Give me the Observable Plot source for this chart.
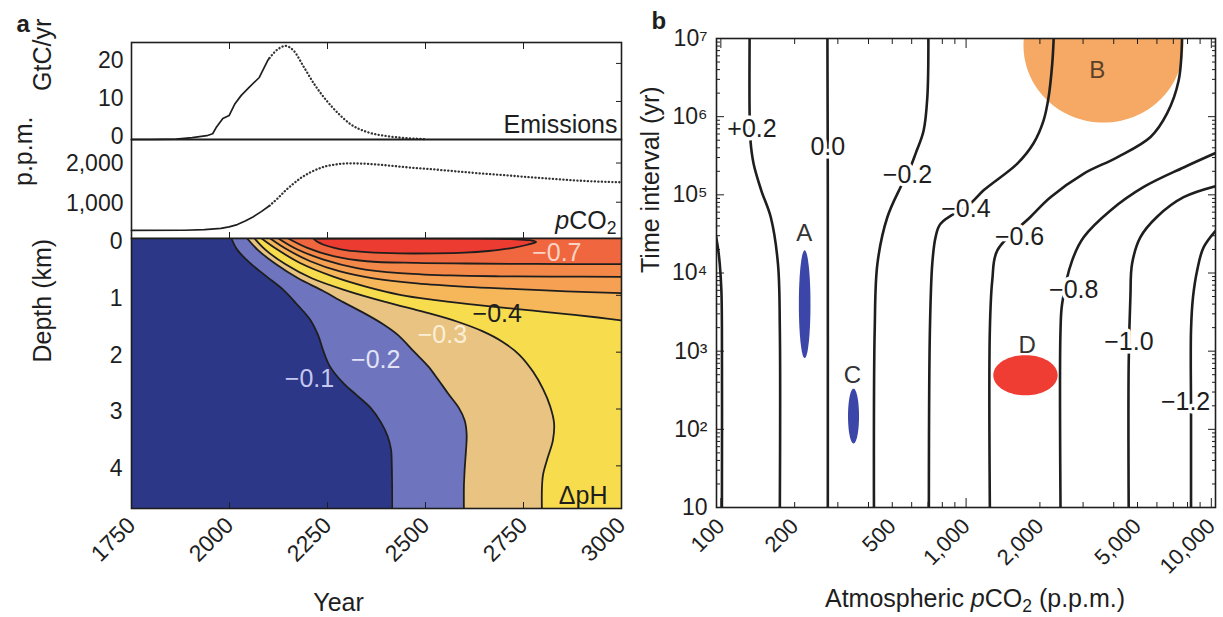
<!DOCTYPE html>
<html>
<head>
<meta charset="utf-8">
<script src="https://cdn.jsdelivr.net/npm/d3@7"></script>
<script src="https://cdn.jsdelivr.net/npm/@observablehq/plot@0.6"></script>
<style>
  html, body { margin: 0; padding: 0; background: #fff; }
  #wrap { position: relative; width: 1223px; height: 617px; background: #fff; overflow: hidden; }
  #wrap svg { position: absolute; left: 0; top: 0; }
</style>
</head>
<body>
<div id="wrap"></div>
<script>
// ---------------- Panel a data ----------------
const yearTicks = [1750, 2000, 2250, 2500, 2750, 3000];
const emisTicks = [0, 10, 20];
const co2Ticks = [1000, 2000];
const depthTicks = [0, 1, 2, 3, 4];

const emisYears  = [1750, 1800, 1864, 1905, 1942, 1957, 1967, 1983, 1999, 2014, 2030, 2050, 2076, 2097, 2102, 2123, 2143, 2164, 2190, 2216, 2247, 2278, 2309, 2350, 2402, 2454, 2496];
const emisValues = [0, 0, 0.1, 0.5, 1.0, 1.5, 3.3, 5.5, 6.3, 9.4, 11.6, 13.7, 16.3, 20.7, 21.4, 23.7, 24.6, 23.3, 19, 14.6, 10.3, 6.8, 4, 2, 0.9, 0.35, 0.1];

const co2Years  = [1750, 1885, 1936, 1978, 1999, 2020, 2040, 2061, 2081, 2102, 2123, 2143, 2164, 2185, 2206, 2226, 2247, 2268, 2290, 2309, 2350, 2402, 2454, 2506, 2558, 2610, 2661, 2713, 2765, 2817, 2868, 2920, 2995];
const co2Values = [280, 285, 300, 335, 370, 430, 520, 630, 760, 910, 1100, 1300, 1480, 1640, 1760, 1850, 1920, 1960, 1985, 1990, 1980, 1940, 1890, 1850, 1805, 1760, 1720, 1680, 1640, 1600, 1565, 1535, 1510];
const solidEnd = 2102; // solid part ends here, later projection dotted

// depth contours of ΔpH: [year, depth km]
const cont01 = [[2005,0],[2020,0.2],[2052,0.43],[2095,0.67],[2140,0.92],[2175,1.18],[2205,1.42],[2226,1.7],[2238,1.95],[2256,2.25],[2291,2.55],[2325,2.76],[2360,2.98],[2386,3.23],[2403,3.47],[2412,3.71],[2414,4.0],[2415,4.8]];
const cont02 = [[2045,0],[2072,0.2],[2118,0.45],[2175,0.7],[2238,0.92],[2290,1.12],[2340,1.3],[2390,1.5],[2430,1.7],[2472,2.0],[2507,2.25],[2533,2.49],[2559,2.74],[2585,2.98],[2600,3.2],[2605,3.45],[2603,3.75],[2600,4.05],[2598,4.35],[2598,4.8]];
const cont03 = [[2064,0],[2092,0.2],[2142,0.45],[2210,0.7],[2300,0.92],[2400,1.12],[2500,1.3],[2580,1.46],[2645,1.63],[2697,1.82],[2740,2.05],[2775,2.35],[2800,2.65],[2818,2.95],[2828,3.25],[2825,3.55],[2812,3.85],[2800,4.15],[2797,4.4],[2797,4.8]];
const cont04 = [[2082,0],[2121,0.19],[2180,0.43],[2265,0.67],[2350,0.85],[2435,0.99],[2520,1.08],[2605,1.15],[2690,1.21],[2775,1.27],[2860,1.33],[2940,1.39],[3000,1.44]];
const cont05 = [[2104,0],[2146,0.19],[2206,0.4],[2282,0.58],[2367,0.7],[2478,0.79],[2605,0.85],[2733,0.89],[2860,0.93],[3000,0.96]];
const cont06 = [[2125,0],[2172,0.19],[2240,0.37],[2325,0.52],[2435,0.61],[2563,0.65],[2690,0.665],[2818,0.67],[3000,0.675]];
const cont07 = [[2150,0],[2197,0.16],[2265,0.31],[2350,0.4],[2478,0.43],[2605,0.44],[2775,0.448],[3000,0.452]];
const cont08 = [[2214,0],[2222,0.05],[2240,0.11],[2265,0.16],[2300,0.21],[2350,0.24],[2435,0.262],[2520,0.262],[2600,0.25],[2660,0.22],[2720,0.17],[2760,0.11],[2782,0.06],[2765,0.03],[2720,0.012],[2600,0.002],[2214,0]];
const depthLevels = ["−0.1", "−0.2", "−0.3", "−0.4", "−0.5", "−0.6", "−0.7", "−0.8"];

const depthLabelText  = ["−0.1", "−0.2", "−0.3", "−0.4", "−0.7"];
const depthLabelYear  = [2204, 2373, 2543, 2683, 2835];
const depthLabelDepth = [2.47, 2.14, 1.70, 1.33, 0.26];

// ---------------- Panel b data ----------------
const xTickLabels = [100, 200, 500, 1000, 2000, 5000, 10000];
const decades = [10, 100, 1000, 10000, 100000, 1000000, 10000000];

// contour lines of ΔpH: [pCO2 ppm, time interval yr]
const lineP04 = [[101,10],[101,2000],[100.5,6000],[99,13000],[97.5,20000],[95.5,30000]];
const lineP02 = [[174,10],[174,1900],[171,13000],[160,51000],[146,115000],[136,250000],[132,500000],[131,1.1e6],[131,1e7]];
const line000 = [[273,10],[273,1e5],[272,1e7]];
const lineN02 = [[421,10],[424,1860],[435,13200],[477,51300],[541,126000],[585,204000],[623,339000],[671,660000],[695,1.78e6],[702,1e7]];
const lineN04 = [[705,10],[712,1860],[728,13200],[751,28800],[787,42700],[1043,77600],[1182,115000],[1618,251000],[1884,457000],[2069,891000],[2170,1.78e6],[2246,4.8e6],[2279,1.1e7]];
const lineN06 = [[1250,10],[1250,1860],[1279,8130],[1341,19500],[1833,52500],[2209,93300],[3010,186000],[4131,302000],[5652,550000],[6600,1.1e6],[7358,2.9e6],[7600,1.1e7]];
const lineN08 = [[2427,10],[2427,1860],[2465,4070],[2708,14500],[3021,28800],[3880,63100],[5301,126000],[7709,224000],[11000,370000]];
const lineN10 = [[4603,10],[4603,692],[4677,4900],[4753,13200],[5140,28800],[6011,52500],[7709,93300],[11000,135000]];
const lineN12 = [[8265,10],[8265,158],[8265,1860],[8420,4900],[8750,10700],[9311,21400],[11000,42000]];

const bLabelText = ["+0.2", "0.0", "−0.2", "−0.4", "−0.6", "−0.8", "−1.0", "−1.2"];
const bLabelP    = [134, 273, 577, 998, 1652, 2748, 4613, 7852];
const bLabelT    = [7.0e5, 4.07e5, 1.78e5, 6.6e4, 2.9e4, 6000, 1300, 224];

// sample regions: extents in pCO2 (ppm) and time interval (yr)
const regionName = ["B", "A", "C", "D"];
const regionPMin = [1714, 208, 330, 1291];
const regionPMax = [7690, 232, 366, 2362];
const regionTMin = [8.4e5, 815, 66, 272];
const regionTMax = [7.9e7, 19500, 331, 890];
const regionLabelP = [3426, 219, 344, 1774];
const regionLabelT = [3.9e6, 32000, 489, 1183];

// ---------------- styles ----------------
const W = 1223, H = 617;
const FONT = '"Liberation Sans", Arial, Helvetica, sans-serif';
const INK = "#1e1e1e";
const TICK_FS = 23, TITLE_FS = 25, LABEL_FS = 25;
const bandColors = ["#6e75be", "#e9c381", "#f7dc4d", "#f6b75b", "#f5a052", "#f38848", "#f0663e", "#ec3b31"];
const NAVY = "#2c3788";
const regionColor = {A: "#3b46a8", B: "#f5a964", C: "#3b46a8", D: "#ef3d34"};
const depthLabelColor = ["#c4c7ee", "#e2e3f7", "#fbefd6", "#1e1e1e", "#fbd3c2"];

const wrap = document.getElementById("wrap");
const NS = "http://www.w3.org/2000/svg";
function richText(svg) {
  svg.querySelectorAll("text").forEach(t => {
    const s = t.textContent;
    const i = s.indexOf("pCO2");
    if (i < 0 || t.children.length) return;
    t.textContent = "";
    const mk = (txt, attrs) => { const e = document.createElementNS(NS, "tspan"); for (const k in attrs) e.setAttribute(k, attrs[k]); e.textContent = txt; t.appendChild(e); };
    if (i > 0) mk(s.slice(0, i), {});
    mk("p", {"font-style": "italic"});
    mk("CO", {});
    mk("2", {"font-size": "70%", dy: "5"});
    const rest = s.slice(i + 4);
    if (rest) mk(rest, {dy: "-5"});
  });
}
function addPlot(opts) {
  const svg = Plot.plot({
    width: W, height: H,
    style: {background: "transparent", fontFamily: FONT, fontSize: "22px", color: INK, overflow: "visible"},
    ...opts
  });
  richText(svg);
  wrap.appendChild(svg);
}
const blank = () => "";
const intFmt = d => String(d);
const xA = {domain: [yearTicks[0], yearTicks[yearTicks.length - 1]], label: null};
const mA = {marginLeft: 131, marginRight: W - 621};
const rows = (xs, ys) => xs.map((x, i) => ({x, y: ys[i]}));

// ---------------- Panel a: emissions ----------------
const emisRows = rows(emisYears, emisValues);
addPlot({
  ...mA, marginTop: 42, marginBottom: H - 139,
  x: xA, y: {domain: [0, 25.5], label: null},
  marks: [
    Plot.line(emisRows.filter(d => d.x <= solidEnd), {x: "x", y: "y", stroke: INK, strokeWidth: 1.7}),
    Plot.line(emisRows.filter(d => d.x >= solidEnd), {x: "x", y: "y", stroke: "#333", strokeWidth: 2.3, strokeDasharray: "0.2 3.3", strokeLinecap: "round", curve: "monotone-x"}),
    Plot.frame({stroke: INK, strokeWidth: 1.6}),
    Plot.axisX(yearTicks.slice(1, -1), {anchor: "top", tickSize: -6, tickFormat: blank}),
    Plot.axisY(emisTicks, {anchor: "left", tickSize: 0, tickPadding: 8, dy: -3, fontSize: TICK_FS, tickFormat: intFmt}),
    Plot.axisY(emisTicks.slice(1), {anchor: "right", tickSize: -6, tickFormat: blank}),
    Plot.text(["Emissions"], {frameAnchor: "bottom-right", textAnchor: "end", lineAnchor: "bottom", dx: -4, dy: -7, fontSize: LABEL_FS}),
    Plot.text(["GtC/yr"], {frameAnchor: "left", rotate: -90, dx: -89, fontSize: TITLE_FS}),
    Plot.text(["a"], {frameAnchor: "top-left", textAnchor: "start", lineAnchor: "bottom", dx: -115, dy: -11, fontSize: 24, fontWeight: "bold"})
  ]
});

// ---------------- Panel a: pCO2 ----------------
const co2Rows = rows(co2Years, co2Values);
addPlot({
  ...mA, marginTop: 139, marginBottom: H - 238,
  x: xA, y: {domain: [75, 2600], label: null},
  marks: [
    Plot.line(co2Rows.filter(d => d.x <= solidEnd), {x: "x", y: "y", stroke: INK, strokeWidth: 1.7}),
    Plot.line(co2Rows.filter(d => d.x >= solidEnd), {x: "x", y: "y", stroke: "#333", strokeWidth: 2.3, strokeDasharray: "0.2 3.3", strokeLinecap: "round", curve: "monotone-x"}),
    Plot.frame({stroke: INK, strokeWidth: 1.6}),
    Plot.axisX(yearTicks.slice(1, -1), {anchor: "bottom", tickSize: -6, tickFormat: blank}),
    Plot.axisY(co2Ticks, {anchor: "left", tickSize: 0, tickPadding: 8, dy: 1, fontSize: TICK_FS, tickFormat: d3.format(",")}),
    Plot.axisY(co2Ticks, {anchor: "right", tickSize: -6, tickFormat: blank}),
    Plot.text(["pCO2"], {frameAnchor: "bottom-right", textAnchor: "end", lineAnchor: "bottom", dx: -5, dy: -10, fontSize: LABEL_FS}),
    Plot.text(["p.p.m."], {frameAnchor: "left", rotate: -90, dx: -108, dy: -3, fontSize: TITLE_FS})
  ]
});

// ---------------- Panel a: depth ΔpH ----------------
const bands = [cont01, cont02, cont03, cont04, cont05, cont06, cont07];
const lineRows = [cont01, cont02, cont03, cont04, cont05, cont06, cont07, cont08]
  .flatMap((c, k) => c.map(([x, y]) => ({x, y, level: depthLevels[k]})));
const xMax = xA.domain[1];
addPlot({
  ...mA, marginTop: 238, marginBottom: H - 508,
  x: xA, y: {domain: [0, 4.75], reverse: true, label: null},
  marks: [
    Plot.frame({fill: NAVY, stroke: null}),
    ...bands.map((c, k) => Plot.areaX(c, {y: d => d[1], x1: d => d[0], x2: xMax, fill: bandColors[k], curve: "catmull-rom", clip: true})),
    Plot.line(cont08, {x: d => d[0], y: d => d[1], fill: bandColors[7], stroke: null, curve: "catmull-rom", clip: true}),
    Plot.line(lineRows, {x: "x", y: "y", z: "level", stroke: INK, strokeWidth: 1.8, curve: "catmull-rom", clip: true}),
    Plot.text(depthLabelText, {x: (d, i) => depthLabelYear[i], y: (d, i) => depthLabelDepth[i], fill: (d, i) => depthLabelColor[i], fontSize: LABEL_FS}),
    Plot.text(["ΔpH"], {frameAnchor: "bottom-right", textAnchor: "end", lineAnchor: "bottom", dx: -14, dy: -5, fontSize: LABEL_FS, fill: INK}),
    Plot.frame({stroke: INK, strokeWidth: 1.6}),
    Plot.axisX(yearTicks.slice(1, -1), {anchor: "bottom", tickSize: -6, tickFormat: blank}),
    Plot.axisX(yearTicks, {anchor: "bottom", tickSize: 0, tickPadding: 13, tickRotate: -45, fontSize: TICK_FS, tickFormat: intFmt}),
    Plot.axisY(depthTicks, {anchor: "left", tickSize: 0, tickPadding: 9, dy: 3, fontSize: TICK_FS, tickFormat: intFmt}),
    Plot.axisY(depthTicks.slice(1), {anchor: "right", tickSize: -6, tickFormat: blank}),
    Plot.text(["Year"], {frameAnchor: "bottom", dx: -38, dy: 102, fontSize: TITLE_FS}),
    Plot.text(["Depth (km)"], {frameAnchor: "left", rotate: -90, dx: -89, dy: -11, fontSize: TITLE_FS})
  ]
});

// ---------------- Panel b ----------------
const sup = {2: "²", 3: "³", 4: "⁴", 5: "⁵", 6: "⁶", 7: "⁷"};
const decadeFmt = d => d === 10 ? "10" : "10" + sup[Math.round(Math.log10(d))];
const xMinor = [1, 10].flatMap(m => [2, 3, 4, 5, 6, 7, 8, 9].map(k => k * 100 * m));
const yMinor = decades.slice(0, -1).flatMap(d => [2, 3, 4, 5, 6, 7, 8, 9].map(k => k * d));
const contB = [lineP04, lineP02, line000, lineN02, lineN04, lineN06, lineN08, lineN10, lineN12];
const contBRows = contB.flatMap((c, k) => c.map(([p, t]) => ({p, t, k})));
function ellipse(i, n = 90) {
  const lx0 = Math.log10(regionPMin[i]), lx1 = Math.log10(regionPMax[i]);
  const ly0 = Math.log10(regionTMin[i]), ly1 = Math.log10(regionTMax[i]);
  const cx = (lx0 + lx1) / 2, rx = (lx1 - lx0) / 2, cy = (ly0 + ly1) / 2, ry = (ly1 - ly0) / 2;
  return d3.range(n + 1).map(j => {
    const a = 2 * Math.PI * j / n;
    return {p: 10 ** (cx + rx * Math.cos(a)), t: 10 ** (cy + ry * Math.sin(a))};
  });
}
addPlot({
  marginLeft: 716, marginRight: W - 1215, marginTop: 38, marginBottom: H - 507,
  x: {type: "log", domain: [96, 10400], label: null},
  y: {type: "log", domain: [10, 1e7], label: null},
  marks: [
    ...regionName.map((r, i) => Plot.line(ellipse(i), {x: "p", y: "t", fill: regionColor[r], stroke: null, clip: true})),
    Plot.line(contBRows, {x: "p", y: "t", z: "k", stroke: INK, strokeWidth: 2.6, curve: "catmull-rom", clip: true}),
    Plot.text(bLabelText, {x: (d, i) => bLabelP[i], y: (d, i) => bLabelT[i], fontSize: LABEL_FS, fill: INK, stroke: "white", strokeWidth: 7, paintOrder: "stroke"}),
    Plot.text(regionName, {x: (d, i) => regionLabelP[i], y: (d, i) => regionLabelT[i], fontSize: 24, fill: (d) => d === "B" ? "#5b4128" : "#333"}),
    Plot.frame({stroke: INK, strokeWidth: 1.6}),
    Plot.axisX(xMinor, {anchor: "bottom", tickSize: -5, tickFormat: blank}),
    Plot.axisX(xMinor, {anchor: "top", tickSize: -5, tickFormat: blank}),
    Plot.axisX([100, 1000, 10000], {anchor: "bottom", tickSize: -9, tickFormat: blank}),
    Plot.axisX([100, 1000, 10000], {anchor: "top", tickSize: -9, tickFormat: blank}),
    Plot.text(xTickLabels, {x: d => d, frameAnchor: "bottom", text: d3.format(","), rotate: -45, textAnchor: "end", lineAnchor: "middle", dx: 0, dy: 15, fontSize: 22}),
    Plot.axisY(yMinor, {anchor: "left", tickSize: -4, tickFormat: blank}),
    Plot.axisY(yMinor, {anchor: "right", tickSize: -4, tickFormat: blank}),
    Plot.axisY(decades, {anchor: "left", tickSize: -8, tickFormat: blank}),
    Plot.axisY(decades, {anchor: "right", tickSize: -8, tickFormat: blank}),
    Plot.axisY(decades, {anchor: "left", tickSize: 0, tickPadding: 9, fontSize: TICK_FS, tickFormat: decadeFmt}),
    Plot.text(["Time interval (yr)"], {frameAnchor: "left", rotate: -90, dx: -66, fontSize: TITLE_FS}),
    Plot.text(["Atmospheric pCO2 (p.p.m.)"], {frameAnchor: "bottom", dx: 9, dy: 99, fontSize: TITLE_FS}),
    Plot.text(["b"], {frameAnchor: "top-left", textAnchor: "start", lineAnchor: "bottom", dx: -65, dy: -10, fontSize: 24, fontWeight: "bold"})
  ]
});
</script>
</body>
</html>
